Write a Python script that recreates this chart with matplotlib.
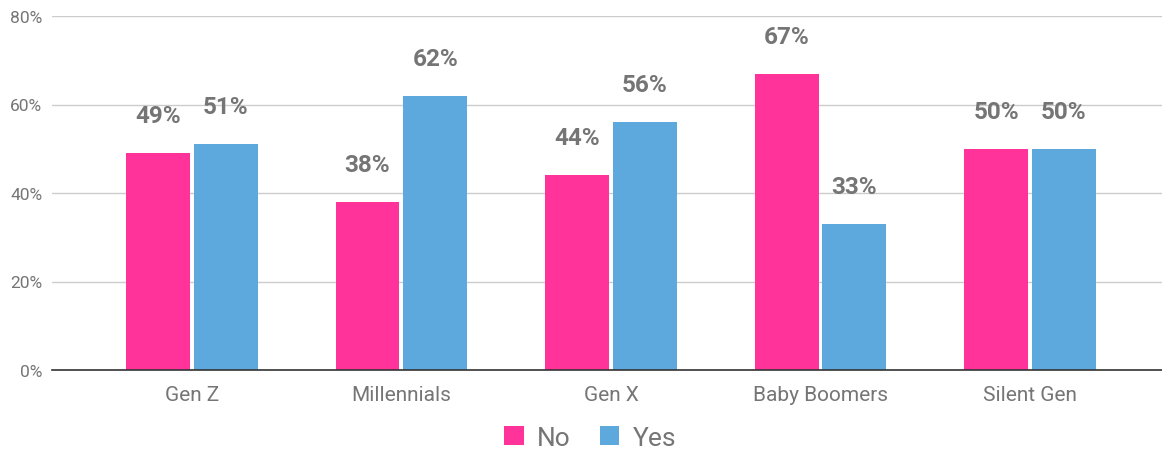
import numpy as np
import matplotlib.pyplot as plt
from matplotlib.ticker import FuncFormatter

plt.rcParams['font.family'] = ['Roboto', 'DejaVu Sans']

categories = ['Gen Z', 'Millennials', 'Gen X', 'Baby Boomers', 'Silent Gen']
no_values = [49, 38, 44, 67, 50]
yes_values = [51, 62, 56, 33, 50]
series_names = ['No', 'Yes']
y_ticks = [0, 20, 40, 60, 80]

pink = '#FF3399'
blue = '#5DA9DD'
gray = '#757575'

fig = plt.figure(figsize=(11.62, 4.52), dpi=100)
ax = fig.add_axes([52 / 1162, 1 - 371 / 452, 1 - 52 / 1162, (371 - 17) / 452])

x = np.arange(len(categories))
w = 0.305
off = 0.162
bars_no = ax.bar(x - off, no_values, w, color=pink, label=series_names[0], zorder=3)
bars_yes = ax.bar(x + off, yes_values, w, color=blue, label=series_names[1], zorder=3)

for bars, vals in ((bars_no, no_values), (bars_yes, yes_values)):
    for b, v in zip(bars, vals):
        ax.annotate(f'{v}%', (b.get_x() + b.get_width() / 2, v),
                    xytext=(0, 27), textcoords='offset points',
                    ha='center', va='center', fontsize=17.5, fontweight='bold',
                    color=gray, zorder=4)

ax.set_xlim(-0.668, 4.63)
ax.set_ylim(0, 80)
ax.set_yticks(y_ticks)
ax.yaxis.set_major_formatter(FuncFormatter(lambda v, p: f'{v:.0f}%'))
ax.set_xticks(x)
ax.set_xticklabels(categories)
ax.tick_params(axis='y', length=0, pad=7, labelsize=12.5, labelcolor=gray)
ax.tick_params(axis='x', length=0, pad=11, labelsize=15, labelcolor=gray)
ax.grid(axis='y', color='#CCCCCC', linewidth=1, zorder=0)
for s in ('top', 'right', 'left'):
    ax.spines[s].set_visible(False)
ax.spines['bottom'].set_color('#333333')
ax.spines['bottom'].set_linewidth(1.2)
ax.spines['bottom'].set_zorder(5)

leg = fig.legend(loc='center', bbox_to_anchor=(590 / 1162, 1 - 439 / 452),
                 ncol=2, frameon=False, fontsize=19, handlelength=0.75,
                 handleheight=0.75, handletextpad=0.5, columnspacing=1.1)
for t in leg.get_texts():
    t.set_color(gray)

fig.savefig('out.png', dpi=100)
